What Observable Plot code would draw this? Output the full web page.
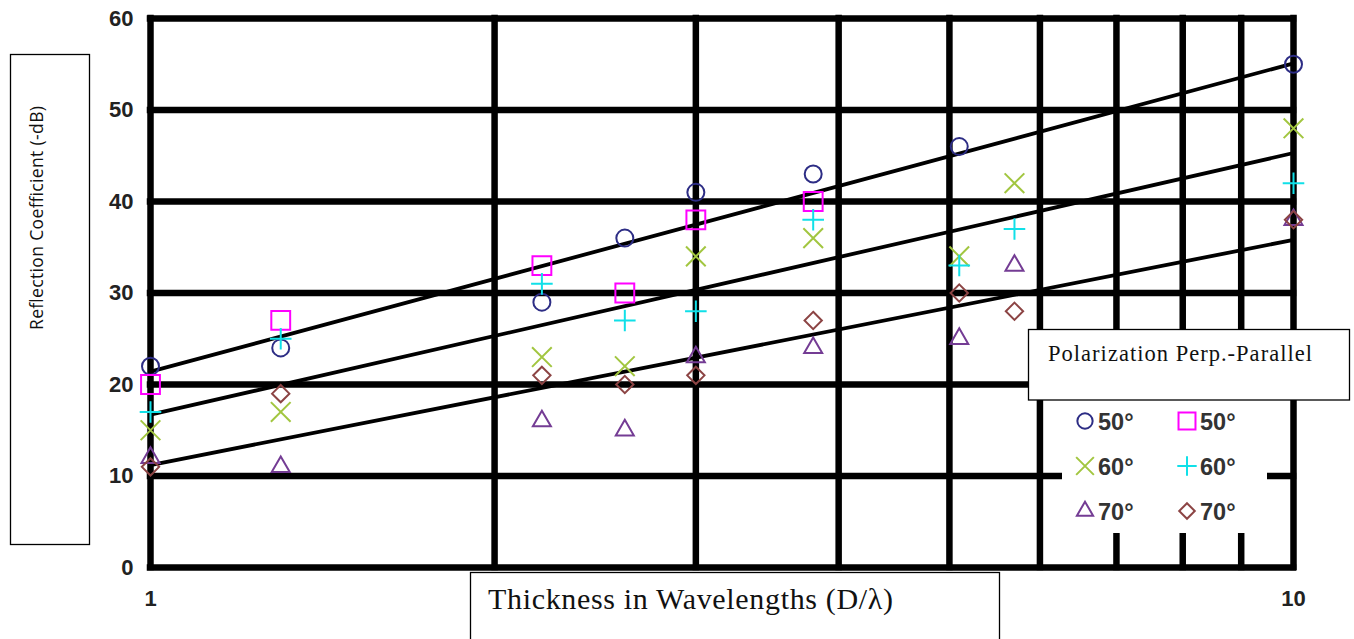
<!DOCTYPE html>
<html><head><meta charset="utf-8">
<script src="https://cdn.jsdelivr.net/npm/d3@7"></script>
<script src="https://cdn.jsdelivr.net/npm/@observablehq/plot@0.6"></script>
<style>
body{margin:0;background:#fff;}
#wrap{position:relative;width:1354px;height:639px;overflow:hidden;background:#fff;}
#wrap > svg{position:absolute;left:0;top:0;}
</style></head><body><div id="wrap"></div>
<script>
// ---- data ----
const thickness = [1, 1.3, 2.2, 2.6, 3, 3.8, 5.1, 5.7, 10];
const perp50x = [1, 1.3, 2.2, 2.6, 3, 3.8, 5.1, 10];
const perp50 = [22, 24, 29, 36, 41, 43, 46, 55];
const par50x = [1, 1.3, 2.2, 2.6, 3, 3.8];
const par50 = [20, 27, 33, 30, 38, 40];
const perp60 = [15, 17, 23, 22, 34, 36, 34, 42, 48];
const par60 = [17, 25, 31, 27, 28, 38, 33, 37, 42];
const perp70 = [12, 11, 16, 15, 23, 24, 25, 33, 38];
const par70 = [11, 19, 21, 20, 21, 27, 30, 28, 38];
const trendX = [1, 10];
const trend50 = [21.4, 55.1];
const trend60 = [16.7, 45.3];
const trend70 = [11.2, 35.8];
const yTicks = [0, 10, 20, 30, 40, 50, 60];
const xGrid = [1, 2, 3, 4, 5, 6, 7, 8, 9, 10];
const xTickLabels = [1, 10];
const legendLabels = ["50°", "50°", "60°", "60°", "70°", "70°"];
const xTitle = "Thickness in Wavelengths (D/λ)";
const yTitle = "Reflection Coefficient (-dB)";
const legendTitle = "Polarization Perp.-Parallel";

const series = [
  {xs: perp50x, ys: perp50, symbol: "circle", color: "#2d2d85", r: 8.5, label: legendLabels[0]},
  {xs: par50x, ys: par50, symbol: "square2", color: "#ff00ff", r: 12, label: legendLabels[1]},
  {xs: thickness, ys: perp60, symbol: "times", color: "#a2c640", r: 9, label: legendLabels[2]},
  {xs: thickness, ys: par60, symbol: "plus", color: "#10e0e8", r: 7, label: legendLabels[3]},
  {xs: thickness, ys: perp70, symbol: "triangle2", color: "#743c94", r: 8.6, label: legendLabels[4]},
  {xs: thickness, ys: par70, symbol: "diamond2", color: "#8c4444", r: 7.8, label: legendLabels[5]}
];
const trends = [trend50, trend60, trend70];

const dotMarks = series.map(s => Plot.dot(s.xs.map((x, i) => ({x, y: s.ys[i]})), {
  x: "x", y: "y", symbol: s.symbol, r: s.r, stroke: s.color, strokeWidth: 2, fill: "none"
}));
const lineMarks = trends.map(t => Plot.line(trendX.map((x, i) => ({x, y: t[i]})), {
  x: "x", y: "y", stroke: "black", strokeWidth: 3.8
}));

const chart = Plot.plot({
  width: 1354, height: 639,
  marginLeft: 150, marginRight: 61, marginTop: 18, marginBottom: 72,
  style: {fontFamily: "'Liberation Sans', Arial, sans-serif", fontSize: "22px", fontWeight: "bold",
          background: "white", overflow: "visible"},
  x: {type: "log", domain: [1, 10]},
  y: {domain: [0, 60]},
  marks: [
    Plot.ruleY(yTicks, {stroke: "black", strokeWidth: 6.5, strokeLinecap: "square"}),
    Plot.ruleX(xGrid, {stroke: "black", strokeWidth: 6.5, strokeLinecap: "square"}),
    ...lineMarks,
    ...dotMarks,
    Plot.axisY(yTicks, {tickSize: 0, tickPadding: 17, fill: "#222", label: null}),
    Plot.axisX(xTickLabels, {tickSize: 0, tickPadding: 23, fill: "#222", tickFormat: d => String(d), label: null})
  ]
});
const wrap = document.getElementById("wrap");
wrap.appendChild(chart);

// ---- overlay: title boxes and legend ----
const ov = d3.select(wrap).append("svg")
  .attr("width", 1354).attr("height", 639)
  .style("pointer-events", "none");

// y title box
ov.append("rect").attr("x", 10.5).attr("y", 54.5).attr("width", 79).attr("height", 490)
  .attr("fill", "none").attr("stroke", "black").attr("stroke-width", 1.3);
ov.append("text").attr("transform", "translate(43,218) rotate(-90)")
  .attr("text-anchor", "middle")
  .attr("font-family", "'Open Sans', sans-serif").attr("font-size", 17.5).attr("fill", "#111")
  .attr("textLength", 224)
  .text(yTitle);

// x title box
ov.append("rect").attr("x", 470.5).attr("y", 572.5).attr("width", 529).attr("height", 90)
  .attr("fill", "white").attr("stroke", "black").attr("stroke-width", 1.3);
ov.append("text").attr("x", 488).attr("y", 609)
  .attr("font-family", "'Liberation Serif', 'DejaVu Serif', serif").attr("font-size", 30).attr("fill", "#111")
  .attr("textLength", 405)
  .text(xTitle);

// legend background (hides grid)
ov.append("rect").attr("x", 1062).attr("y", 400).attr("width", 205).attr("height", 133).attr("fill", "white");
// legend title box
ov.append("rect").attr("x", 1028.5).attr("y", 329.5).attr("width", 321).attr("height", 70.5)
  .attr("fill", "white").attr("stroke", "black").attr("stroke-width", 1.3);
ov.append("text").attr("x", 1048).attr("y", 361)
  .attr("font-family", "'Liberation Serif', 'DejaVu Serif', serif").attr("font-size", 22.5).attr("fill", "#111")
  .attr("textLength", 264)
  .text(legendTitle);

const symMap = {circle: d3.symbolCircle, square2: d3.symbolSquare2, times: d3.symbolTimes,
  plus: d3.symbolPlus, triangle2: d3.symbolTriangle2, diamond2: d3.symbolDiamond2};
const colX = [1085, 1187], rowY = [421, 466, 511];
series.forEach((s, i) => {
  const cx = colX[i % 2], cy = rowY[Math.floor(i / 2)];
  const rr = s.r * 0.9;
  ov.append("path")
    .attr("d", d3.symbol(symMap[s.symbol], Math.PI * rr * rr)())
    .attr("transform", `translate(${cx},${cy})`)
    .attr("fill", "none").attr("stroke", s.color).attr("stroke-width", 2);
  ov.append("text").attr("x", cx + 13).attr("y", cy + 8.5)
    .attr("font-family", "'Liberation Sans', Arial, sans-serif").attr("font-weight", "bold")
    .attr("font-size", 23.5).attr("fill", "#333")
    .text(s.label);
});
</script></body></html>
